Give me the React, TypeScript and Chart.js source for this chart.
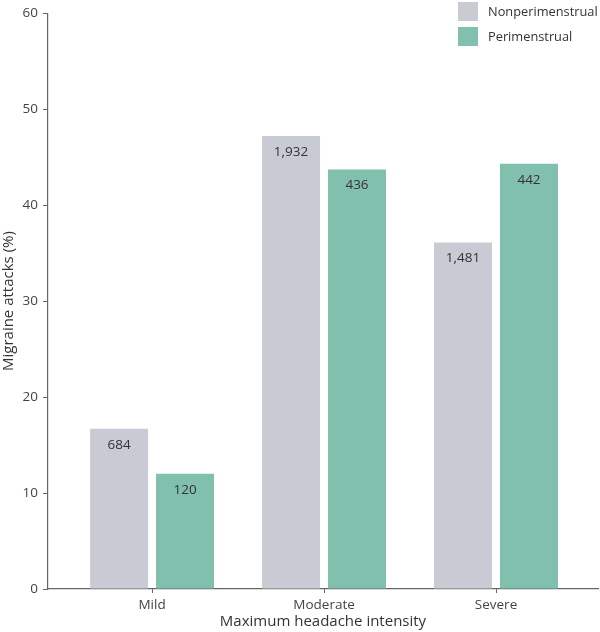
import React, { useEffect, useRef } from "react";
import { Chart, registerables } from "chart.js";

Chart.register(...registerables);

const categories = ["Mild", "Moderate", "Severe"];
const seriesNames = ["Nonperimenstrual", "Perimenstrual"];
const nonperimenstrual = [16.7, 47.2, 36.1];
const perimenstrual = [12.0, 43.7, 44.3];
const nonperiCounts = ["684", "1,932", "1,481"];
const periCounts = ["120", "436", "442"];
const yTicks = [0, 10, 20, 30, 40, 50, 60];

const GRAY = "#c9cbd4";
const GREEN = "#80c0ad";
const FONT = "'Open Sans', 'Noto Sans', sans-serif";

export default function App() {
  const ref = useRef<HTMLCanvasElement>(null);
  useEffect(() => {
    if (!ref.current) return;
    const labelPlugin = {
      id: "barLabels",
      afterDatasetsDraw(chart: any) {
        const ctx = chart.ctx;
        const counts = [nonperiCounts, periCounts];
        ctx.save();
        ctx.font = `13.5px ${FONT}`;
        ctx.fillStyle = "#333";
        ctx.textAlign = "center";
        ctx.textBaseline = "middle";
        chart.data.datasets.forEach((_ds: any, di: number) => {
          const meta = chart.getDatasetMeta(di);
          meta.data.forEach((bar: any, i: number) => {
            ctx.fillText(counts[di][i], bar.x, bar.y + 16);
          });
        });
        ctx.restore();
      },
    };
    const legendPlugin = {
      id: "customLegend",
      afterDraw(chart: any) {
        const ctx = chart.ctx;
        ctx.save();
        ctx.font = `12.8px ${FONT}`;
        ctx.textBaseline = "middle";
        ctx.textAlign = "left";
        chart.data.datasets.forEach((ds: any, i: number) => {
          const y = 2 + i * 25;
          ctx.fillStyle = ds.backgroundColor;
          ctx.fillRect(458, y, 20, 19);
          ctx.fillStyle = "#333";
          ctx.fillText(ds.label, 488, y + 10);
        });
        ctx.restore();
      },
    };
    const chart = new Chart(ref.current, {
      type: "bar",
      data: {
        datasets: [
          {
            label: seriesNames[0],
            data: nonperimenstrual.map((v, i) => ({ x: i, y: v })),
            backgroundColor: GRAY,
            categoryPercentage: 0.767,
            barPercentage: 0.879,
          },
          {
            label: seriesNames[1],
            data: perimenstrual.map((v, i) => ({ x: i, y: v })),
            backgroundColor: GREEN,
            categoryPercentage: 0.767,
            barPercentage: 0.879,
          },
        ],
      },
      options: {
        animation: false,
        responsive: false,
        maintainAspectRatio: false,
        layout: { padding: { top: 11, right: 2, left: 0, bottom: 0 } },
        plugins: { legend: { display: false }, tooltip: { enabled: false } },
        scales: {
          x: {
            type: "linear",
            offset: false,
            min: -0.605,
            max: 2.593,
            afterBuildTicks: (s: any) => {
              s.ticks = categories.map((_c, i) => ({ value: i }));
            },
            afterFit: (s: any) => {
              s.height = 43;
            },
            ticks: {
              callback: (v: any) => categories[v] ?? "",
              color: "#444",
              font: { family: FONT, size: 13.5 },
              padding: 4,
              maxRotation: 0,
              autoSkip: false,
            },
            grid: { offset: false, drawOnChartArea: false, drawTicks: true, tickLength: 4, color: "#666" },
            border: { color: "#666", width: 1.2 },
            title: {
              display: true,
              text: "Maximum headache intensity",
              color: "#333",
              font: { family: FONT, size: 15 },
              padding: { top: 0, bottom: 1 },
            },
          },
          y: {
            min: 0,
            max: 60,
            afterBuildTicks: (s: any) => {
              s.ticks = yTicks.map((v) => ({ value: v }));
            },
            afterFit: (s: any) => {
              s.width = 48;
            },
            ticks: {
              color: "#444",
              font: { family: FONT, size: 13.5 },
              padding: 5,
            },
            grid: { drawOnChartArea: false, drawTicks: true, tickLength: 5, color: "#666" },
            border: { color: "#666", width: 1.2 },
            title: {
              display: true,
              text: "Migraine attacks (%)",
              color: "#333",
              font: { family: FONT, size: 15 },
              padding: { top: 0, bottom: 0 },
            },
          },
        },
      },
      plugins: [labelPlugin, legendPlugin],
    });
    return () => chart.destroy();
  }, []);
  return (
    <div style={{ position: "fixed", left: 0, top: 0, width: 600, height: 632, background: "#fff" }}>
      <canvas ref={ref} width={600} height={632} style={{ width: 600, height: 632 }} />
    </div>
  );
}
